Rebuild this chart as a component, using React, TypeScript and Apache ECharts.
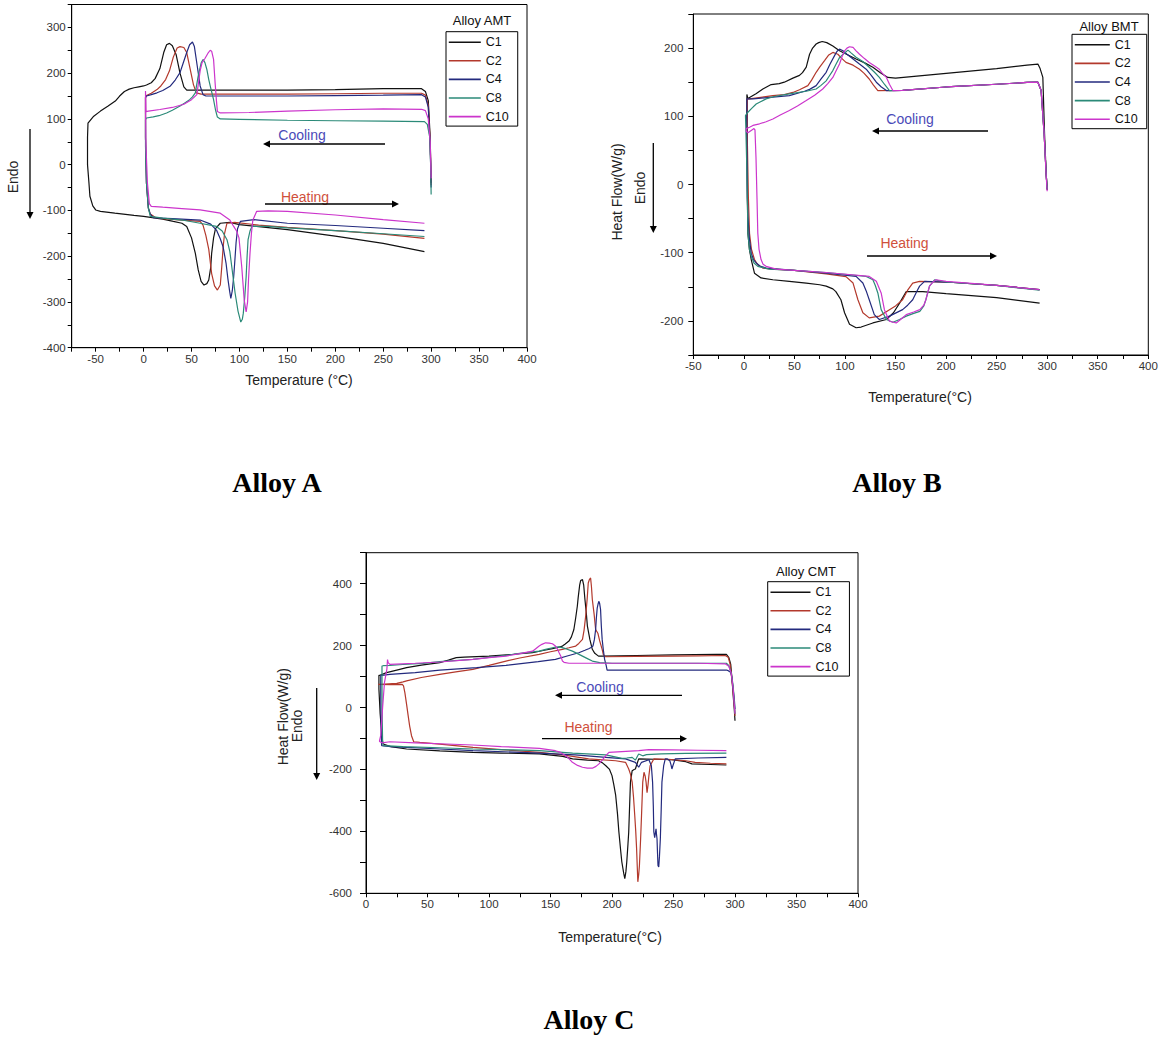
import React, { useEffect, useRef } from "react";
import * as echarts from "echarts";

// ---------- DATA (temperature °C, heat flow W/g) ----------
const CURVE_NAMES = ["C1", "C2", "C4", "C8", "C10"];
const CURVE_COLORS = ["#111111", "#b3392c", "#232a7e", "#2b8a78", "#cc35cc"];

const A_C1 = [[300, -40], [299, 60], [297, 140], [294, 160], [290, 166], [250, 166], [200, 164], [150, 163], [100, 163], [60, 163], [45, 163], [42, 170], [38, 200], [34, 240], [30, 260], [27, 265], [24, 262], [21, 245], [17, 210], [12, 188], [8, 179], [3, 174], [0, 172], [-5, 170], [-10, 168], [-15, 165], [-20, 160], [-25, 150], [-29.5, 139], [-37, 128], [-45, 117], [-52, 106], [-58, 91], [-58.5, 60], [-58.5, 0], [-57, -40], [-56, -69], [-53, -90], [-50, -99], [-45, -102], [-30, -106], [-10, -111], [0, -113], [20, -119], [31, -124], [40, -128], [45, -135], [50, -160], [54, -194], [57, -230], [60, -255], [63, -263], [66, -260], [68, -252], [70, -225], [71, -194], [73, -160], [75, -140], [80, -128], [90, -126], [100, -131], [150, -142], [200, -156], [250, -172], [293, -190]];
const A_C2 = [[300, -45], [299, 50], [297, 130], [294, 152], [290, 156], [250, 156], [200, 155], [150, 154], [100, 154], [60, 154], [55, 157], [52, 175], [48, 215], [45, 245], [42, 256], [38, 258], [35, 255], [31, 235], [27, 205], [23, 186], [18, 172], [14, 164], [8, 156], [3, 151], [2, 148], [2, 60], [3, -40], [5, -95], [7, -108], [12, -115], [20, -118], [40, -121], [59, -124], [62, -132], [65, -155], [68, -185], [71, -238], [74, -265], [77, -274], [80, -263], [81.5, -225], [83, -180], [84.5, -150], [87, -128], [95, -126], [120, -132], [150, -137], [200, -144], [250, -152], [293, -161]];
const A_C4 = [[300, -50], [299, 40], [297, 125], [294, 148], [290, 153], [250, 152], [200, 151], [150, 150], [100, 150], [65, 150], [62, 153], [59, 172], [56, 215], [53, 258], [51, 268], [48, 262], [45, 245], [41, 220], [38, 201], [33, 185], [28, 172], [20, 162], [14, 157], [8, 153], [3, 150], [2, 146], [2, 60], [3, -40], [5, -95], [7, -108], [10, -116], [30, -118], [59, -121], [70, -130], [76, -143], [80, -162], [83, -180], [86, -215], [88, -250], [89.6, -274], [91, -292], [92.5, -276], [94, -245], [95, -216], [96.5, -170], [98, -140], [101, -124], [115, -120], [150, -128], [200, -133], [250, -139], [293, -144]];
const A_C8 = [[300, -65], [299.5, 0], [298.5, 60], [296, 88], [293, 94], [250, 95], [200, 96], [150, 97], [100, 99], [80, 100], [77, 104], [75, 120], [73, 142], [70, 168], [68, 186], [66, 208], [64, 223], [62, 230], [60, 222], [57, 194], [55, 170], [54, 157], [51, 148], [48, 142], [43, 135], [38, 128], [30, 119], [24, 113], [16, 107], [10, 104.5], [3, 102], [2, 98], [2, 40], [3, -40], [5, -95], [7, -113], [20, -117], [40, -121], [59, -128], [76, -135], [82, -145], [87, -164], [90, -190], [92, -223], [95.5, -281], [98.5, -320], [101.4, -344], [103, -338], [104, -325], [105.5, -290], [107, -245], [108, -200], [109, -164], [111, -145], [113, -135], [130, -135], [150, -138], [200, -144], [250, -151], [293, -157]];
const A_C10 = [[300, -30], [299, 50], [297, 100], [294, 118], [290, 121], [250, 122], [200, 120], [150, 117], [110, 114], [80, 113], [77, 116], [76, 140], [74.6, 179], [73, 230], [71, 248], [69.5, 250], [67, 243], [64, 232], [61, 223], [59, 205], [57, 175], [55.6, 153], [50, 142], [42, 132], [30, 125], [17, 120.6], [5, 117], [2.5, 116], [2, 161], [2, 120], [2.5, 40], [4, -40], [6, -85], [8, -91], [20, -93], [40, -96], [59, -99], [80, -106], [90, -121], [94, -135], [97, -145], [99.5, -160], [102.4, -223], [105, -296], [107, -322], [108.5, -300], [109.5, -250], [111, -194], [112.5, -150], [114, -121], [118, -102], [130, -101], [150, -102], [200, -110], [250, -120], [293, -128]];

const B_C1 = [[300, -8], [299, 16], [297.4, 74], [295.7, 157], [293, 170], [290.8, 176.6], [280, 175], [250, 170], [200, 163], [150, 156], [142.4, 157], [135, 164], [127.6, 172], [120, 178], [111, 184], [100, 192], [94.6, 196], [88, 203], [82, 208], [77.5, 209.7], [74, 208], [71.5, 206], [68, 200], [65, 191], [61.7, 172], [58, 164], [55, 160], [48.5, 156], [40, 150], [35, 148], [27, 146.5], [18.8, 140], [12, 133], [9, 130.4], [4, 126], [3, 132], [3, 60], [3.5, -20], [4, -71.5], [5.5, -95], [7.3, -110], [10.5, -130], [17, -137], [28.7, -139.7], [45, -142], [61.7, -144.5], [75, -147], [81.4, -149], [88, -153], [91, -157], [96, -169], [99.6, -188], [104.5, -205], [111, -210], [116, -209], [127.6, -203], [141, -198], [148, -188], [154, -174], [160.6, -157], [177, -157], [200, -160], [250, -166], [292.5, -174]];
const B_C2 = [[300, -6], [299, 15], [297, 74], [294, 137.7], [290.8, 150], [280, 149.6], [250, 147], [200, 143], [157, 138], [132.5, 137.7], [128, 146], [124, 154.7], [119, 163], [114.4, 169], [108, 175], [101, 179], [96, 186], [93, 191], [88, 193.7], [84, 190], [79.8, 181.5], [75, 172], [71.5, 164.5], [67, 153], [63.3, 145], [55, 139], [48.5, 135], [40, 132], [28.7, 130.4], [15, 127.5], [5.6, 125.5], [3.5, 125.5], [3.5, 60], [4.5, -20], [5.6, -71.5], [7.5, -95], [10.5, -110], [14, -118], [18.8, -122.6], [28.7, -124], [50, -126], [81.4, -131], [101, -135], [108, -144.5], [112.8, -169], [117.7, -188], [124, -195.6], [134, -193], [144, -183.5], [150, -178], [157, -169], [162, -155], [167, -144.5], [173.8, -142], [200, -143], [250, -148], [292.5, -154]];
const B_C4 = [[300, -7], [299, 15], [297, 74], [294, 137.7], [290.8, 150], [280, 149.6], [250, 147], [200, 143], [157, 138], [141, 137.7], [136, 143], [131, 150], [126, 160], [121, 169], [114, 177], [108, 184], [102, 191], [98, 196], [94.6, 198.5], [92, 195], [89.7, 189], [85, 176], [81.4, 164.5], [76, 154], [71.5, 145], [65, 139.5], [60, 136.7], [45, 130.4], [28.7, 128], [9, 125.5], [3, 125.5], [3, 60], [3.5, -20], [4, -47], [5.5, -80], [7.3, -100.7], [9.5, -110], [12.2, -115], [16, -119.5], [22, -122.6], [50, -126], [81.4, -130], [111, -134.8], [117.7, -144.5], [121, -156], [124, -169], [129, -190.8], [134, -198], [144, -193], [157, -183.5], [162, -177], [167, -169], [171, -157], [173.8, -149], [178.7, -142], [200, -143], [250, -148], [292.5, -154]];
const B_C8 = [[300, -6], [299, 15], [297, 74], [294, 137.7], [290.8, 150], [280, 149.6], [250, 147], [200, 143], [157, 138], [144, 137.7], [139, 147], [134, 157], [129, 165], [124, 172], [118, 180], [111, 186.6], [106, 193], [103, 197], [99, 192], [94.6, 186], [91, 176], [88, 167], [84, 158], [81.4, 152], [76, 145], [71.5, 140], [61.7, 136.7], [45, 133], [30, 129], [22, 125.5], [16, 121], [12.2, 118], [8, 112], [4, 106], [1.6, 101], [2, 80], [3, 20], [4, -71.5], [5.5, -95], [7.3, -105.6], [10, -115], [13.8, -120], [25, -124], [50, -126], [81.4, -129], [121, -134.8], [127.6, -139.7], [130, -148], [132.5, -159], [135.8, -183.5], [141, -198], [147.4, -202], [154, -198], [160.6, -193], [168, -189], [174, -186], [178, -178], [180, -169], [183.6, -149], [188.6, -139.7], [200, -143], [250, -148], [292.5, -155]];
const B_C10 = [[300, -10], [299, 12], [297, 74], [294, 137.7], [290.8, 150], [280, 149.6], [250, 147], [200, 143], [157, 138], [147.4, 137.7], [144, 147], [141, 157], [137, 163], [134, 169], [129, 174], [124, 179], [119, 185], [114.4, 191], [111, 196], [108, 201], [104.5, 202], [102, 200], [99.6, 196], [97, 187], [94.6, 176.6], [91, 166], [88, 157], [83, 148], [78, 140], [70, 131], [61.7, 123], [53, 115], [45, 108.5], [36, 102], [28.7, 96], [22, 92], [15.5, 89], [9, 86.6], [5.6, 84], [2.3, 82], [2.3, 78], [4, 76], [8, 80], [10, 82], [11, 80], [12, 40], [13, -20], [13.8, -71.5], [15, -95], [17, -110], [19, -117], [22, -120], [32, -124], [50, -126], [81.4, -129], [124, -134.8], [131, -142], [135.8, -159], [139, -183.5], [144, -200.5], [150.7, -203], [155, -198], [160.6, -190.8], [168, -187], [174, -183.5], [178, -177], [180, -169], [183.6, -149], [187, -143], [190, -139.7], [200, -142], [250, -148], [292.5, -154]];

const C_C1 = [[300, -43], [299.4, -5], [298.5, 40], [297.8, 80], [296.5, 140], [295, 161], [293, 171.7], [285, 172], [250, 170], [220, 168], [192, 166], [189, 166], [186, 175], [184, 188], [182, 220], [180, 263], [179, 310], [178, 349], [177, 395], [176, 413], [174.5, 410], [173.7, 395], [172.5, 355], [171.8, 327], [170.5, 290], [169, 252], [167, 228], [165, 214.6], [162, 205], [159.7, 198.5], [155, 193], [151.6, 190], [145, 185], [135.4, 177], [120, 172], [100, 166], [80, 163], [73.4, 161], [67, 153], [60, 145], [45, 137], [33, 129], [25, 121], [16.7, 112.7], [11.3, 104], [10.5, 104], [10.5, 60], [11, 20], [11.5, -20], [12.5, -70], [13, -100], [14, -118], [20, -126], [33, -134], [60, -140], [87, -145], [110, -147], [141, -150], [160, -158], [168, -166], [180, -170], [189, -172], [192, -178], [195, -188], [198, -200], [200, -220], [201.5, -250], [203, -284], [204.5, -345], [205.6, -402], [207, -460], [208, -499], [209.5, -535], [210.4, -552.6], [211.3, -530], [212, -499], [213, -440], [213.6, -402], [214.3, -320], [215, -241], [216.4, -204], [218, -200], [219, -198.5], [220.5, -180], [221.7, -166], [235, -167], [248.7, -168.5], [260, -175], [265, -182], [280, -184], [293, -185.6]];
const C_C2 = [[300, -27], [299.5, 5], [298.8, 37.5], [297.5, 90], [296, 140], [294.5, 162], [292, 168], [270, 167], [250, 166], [220, 165], [194.8, 164], [193, 170], [192, 188], [190, 215], [188.5, 240], [186.7, 252], [185.5, 300], [184, 349], [183.3, 390], [182.6, 418.5], [181.5, 412], [180.7, 402], [179.8, 350], [178.6, 295], [177.3, 250], [176, 220], [173, 207], [170.5, 198.5], [165, 193], [159.7, 188], [150, 180], [140.8, 171.7], [125, 160], [113.8, 150], [100, 136], [86.9, 123], [73, 115], [60, 107], [45, 97], [33, 86], [30.2, 82.6], [25, 78], [15, 76], [10, 75], [10, 74], [20, 74], [29.5, 75], [30.5, 70], [31.6, 48], [33, 10], [34.3, -27], [35.5, -60], [37, -91], [38.8, -110.5], [43.7, -112.7], [60, -118], [87, -129], [110, -136], [141, -145], [160, -153], [181, -166], [203, -172], [211, -177], [213.6, -198.5], [215, -215], [216.4, -241], [217.5, -290], [218.5, -349], [219.3, -400], [220, -456], [220.5, -510], [221, -563], [221.7, -540], [222.3, -510], [223.2, -430], [224, -349], [225, -241], [226, -209], [227, -222], [227.7, -241], [228.5, -275], [229.3, -250], [230, -220], [231, -188], [234, -166], [248.7, -168], [260, -172], [267.6, -177], [280, -180], [293, -182]];
const C_C4 = [[300, -5], [299.4, 30], [298.5, 59], [297.5, 95], [296.7, 112.7], [294.5, 119], [293, 121], [260, 121], [230, 121], [200, 121], [196, 121], [195.3, 135], [194, 155.6], [193, 185], [192, 220], [191.3, 265], [190.7, 316.5], [190, 335], [189.4, 343], [188.7, 335], [188, 322], [187.3, 290], [186.7, 252], [185.7, 220], [184.5, 198.5], [182.6, 193], [181, 190], [178, 185], [173, 177], [165, 168], [154, 155.6], [140, 148], [113.8, 136], [90, 129], [60, 121], [40, 113], [19.4, 107], [12.7, 104], [12, 104], [12, 40], [12.2, -40], [12.5, -100], [12.7, -123], [20, -126], [33, -129], [60, -134], [87, -139.5], [141, -147], [170, -153], [195, -161], [211, -166], [219, -177], [221.7, -193], [224, -177], [230, -168.5], [232, -188], [233, -241], [233.6, -320], [234, -402], [234.7, -420], [235.3, -405], [235.8, -392], [236.2, -410], [236.6, -424], [237, -470], [237.4, -510], [238, -515], [238.6, -480], [239.3, -424], [240, -330], [240.6, -241], [242, -188], [243.3, -166], [245, -166], [247, -172], [248, -185], [248.7, -198.5], [249.5, -188], [251.4, -166], [270, -163], [293, -161]];
const C_C8 = [[300, -20], [299.4, 20], [298.5, 70], [297, 110], [295, 135], [293, 143], [270, 143], [230, 143], [200, 143], [190, 145], [184, 150], [180, 158], [176, 166], [172, 174], [167.8, 182], [162.4, 190], [157, 196], [154, 195], [151.6, 193], [146, 188], [140.8, 182], [125, 175], [113.8, 168.5], [100, 162], [86.9, 155.6], [60, 148], [46.4, 142.7], [30, 139], [19.4, 136], [14, 135], [13, 134], [13, 60], [13.2, -40], [13.5, -110], [14, -123], [30, -126], [60, -130], [87, -134], [120, -137], [141, -139.5], [168, -147], [195, -153], [208, -164], [212, -163], [216.4, -161], [219, -170], [221, -155], [221.7, -150], [225, -156], [228, -152], [240, -150], [260, -148], [293, -147]];
const C_C10 = [[300, -20], [299.4, 10], [298.5, 60], [297, 110], [295, 133], [292, 141], [270, 143], [230, 143], [200, 143], [180, 143], [165, 143], [161, 146], [159.7, 150], [158.5, 165], [157, 177], [155.5, 190], [154, 198.5], [151.6, 206], [149, 208], [146, 209], [143, 204], [140.8, 198.5], [138, 190], [135.4, 182], [125, 174], [113.8, 166], [100, 161], [86.9, 155.6], [60, 147], [40, 143], [19.4, 139.5], [18, 145], [17.5, 155], [17, 125], [15, 80], [13.5, 0], [12, -90], [11, -107], [11, -110], [13, -114], [19.4, -110.5], [40, -114], [60, -117], [86.9, -121], [110, -126], [141, -132], [154, -139.5], [158, -145], [162.4, -155.6], [165, -165], [167.8, -177], [172, -187], [176, -193], [180, -196], [184, -196], [187, -190], [189.4, -182], [192, -170], [195, -155.6], [197.5, -145], [221.7, -139.5], [230, -136], [248.7, -137], [270, -138], [293, -139.5]];

// axis ranges: [xMin, xMax, xStep, xLabelEvery, yMin, yMax, yStep, yLabelEvery]
const AXIS_A = [-75, 400, 25, 50, -400, 350, 50, 100];
const AXIS_B = [-50, 400, 25, 50, -250, 250, 50, 100];
const AXIS_C = [0, 400, 25, 50, -600, 500, 100, 200];

const PANEL_CURVES = [
  [A_C1, A_C2, A_C4, A_C8, A_C10],
  [B_C1, B_C2, B_C4, B_C8, B_C10],
  [C_C1, C_C2, C_C4, C_C8, C_C10],
];
const PANEL_AXES = [AXIS_A, AXIS_B, AXIS_C];
const PANEL_TITLES = ["Alloy A", "Alloy B", "Alloy C"];
const LEGEND_TITLES = ["Alloy AMT", "Alloy BMT", "Alloy CMT"];

// ---------- LAYOUT ----------
const GRIDS = [
  { left: 71.7, top: 4.5, width: 455.3, height: 343.2 },
  { left: 693.3, top: 14, width: 455, height: 341 },
  { left: 366, top: 552.7, width: 492, height: 340.6 },
];
const LEGENDS = [
  { left: 446, top: 31.7, itemWidth: 32, padR: 9 },
  { left: 1072, top: 34.3, itemWidth: 35, padR: 9 },
  { left: 767.7, top: 581.7, itemWidth: 40, padR: 11 },
];
const TICK_LEN = [4, 5, 6];
const YLABEL_MARGIN = [6, 10, 14];

const SANS = "'Liberation Sans', Arial, sans-serif";
const SERIF = "'Liberation Serif', 'Times New Roman', serif";
const COOL_COLOR = "#4a4ab8";
const HEAT_COLOR = "#d0503c";

function txt(x: number, y: number, text: string, opts: any = {}) {
  return {
    type: "text",
    x,
    y,
    rotation: opts.rotation || 0,
    silent: true,
    style: {
      text,
      fill: opts.fill || "#222",
      fontSize: opts.fontSize || 14,
      fontFamily: opts.fontFamily || SANS,
      fontWeight: opts.fontWeight || "normal",
      align: "center",
      verticalAlign: "middle",
    },
  };
}

function hArrow(x1: number, x2: number, y: number) {
  const dir = x2 > x1 ? 1 : -1;
  return [
    { type: "line", silent: true, shape: { x1, y1: y, x2: x2 - dir * 4, y2: y }, style: { stroke: "#000", lineWidth: 1.3 } },
    { type: "polygon", silent: true, shape: { points: [[x2, y], [x2 - dir * 7, y - 3.5], [x2 - dir * 7, y + 3.5]] }, style: { fill: "#000" } },
  ];
}

function vArrow(x: number, y1: number, y2: number) {
  return [
    { type: "line", silent: true, shape: { x1: x, y1, x2: x, y2: y2 - 4 }, style: { stroke: "#000", lineWidth: 1.3 } },
    { type: "polygon", silent: true, shape: { points: [[x, y2], [x - 3.5, y2 - 7], [x + 3.5, y2 - 7]] }, style: { fill: "#000" } },
  ];
}

function buildOption() {
  const grid = GRIDS.map((g) => ({ ...g, show: true, borderColor: "#000", borderWidth: 1, backgroundColor: "transparent" }));
  const xAxis: any[] = [];
  const yAxis: any[] = [];
  PANEL_AXES.forEach((ax, i) => {
    const [xMin, xMax, xStep, xEvery, yMin, yMax, yStep, yEvery] = ax;
    xAxis.push({
      type: "value",
      gridIndex: i,
      min: xMin,
      max: xMax,
      interval: xStep,
      axisLine: { show: true, onZero: false, lineStyle: { color: "#000", width: 1 } },
      axisTick: { show: true, length: 4, lineStyle: { color: "#000" } },
      axisLabel: {
        color: "#333",
        fontSize: 11.5,
        fontFamily: SANS,
        margin: 5,
        formatter: (v: number) => (Math.round(v) % xEvery === 0 ? String(v) : ""),
      },
      splitLine: { show: false },
    });
    yAxis.push({
      type: "value",
      gridIndex: i,
      min: yMin,
      max: yMax,
      interval: yStep,
      axisLine: { show: true, onZero: false, lineStyle: { color: "#000", width: 1 } },
      axisTick: { show: true, length: TICK_LEN[i], lineStyle: { color: "#000" } },
      axisLabel: {
        color: "#333",
        fontSize: 11.5,
        fontFamily: SANS,
        margin: YLABEL_MARGIN[i],
        formatter: (v: number) => (Math.round(v) % yEvery === 0 ? String(v) : ""),
      },
      splitLine: { show: false },
    });
  });

  const series: any[] = [];
  PANEL_CURVES.forEach((curves, p) => {
    curves.forEach((data, k) => {
      series.push({
        type: "line",
        name: CURVE_NAMES[k],
        xAxisIndex: p,
        yAxisIndex: p,
        data,
        symbol: "none",
        showSymbol: false,
        smooth: false,
        silent: true,
        lineStyle: { color: CURVE_COLORS[k], width: 1.2 },
        itemStyle: { color: CURVE_COLORS[k] },
      });
    });
  });

  const legend = LEGENDS.map((l) => ({
    show: true,
    orient: "vertical",
    left: l.left,
    top: l.top,
    padding: [4, l.padR, 3, 2],
    itemWidth: l.itemWidth,
    itemHeight: 14,
    itemGap: 5.6,
    borderColor: "#000",
    borderWidth: 1,
    selectedMode: false,
    data: CURVE_NAMES,
    itemStyle: { opacity: 0, borderWidth: 0 },
    lineStyle: { width: 1.6, opacity: 1 },
    textStyle: { fontSize: 12.5, fontFamily: SANS, color: "#111" },
  }));

  const graphic: any[] = [
    txt(277, 482, PANEL_TITLES[0], { fontSize: 28, fontFamily: SERIF, fontWeight: "bold", fill: "#000" }),
    txt(897, 482, PANEL_TITLES[1], { fontSize: 28, fontFamily: SERIF, fontWeight: "bold", fill: "#000" }),
    txt(589, 1019, PANEL_TITLES[2], { fontSize: 28, fontFamily: SERIF, fontWeight: "bold", fill: "#000" }),
    txt(482, 20, LEGEND_TITLES[0], { fontSize: 13, fill: "#111" }),
    txt(1109, 26.7, LEGEND_TITLES[1], { fontSize: 13, fill: "#111" }),
    txt(806, 571.7, LEGEND_TITLES[2], { fontSize: 13, fill: "#111" }),
    txt(299, 380, "Temperature (°C)", { fontSize: 14 }),
    txt(920, 396.7, "Temperature(°C)", { fontSize: 14 }),
    txt(610, 936.7, "Temperature(°C)", { fontSize: 14 }),
    txt(13.3, 177, "Endo", { fontSize: 14, rotation: Math.PI / 2 }),
    txt(617, 192, "Heat Flow(W/g)", { fontSize: 14, rotation: Math.PI / 2 }),
    txt(640, 188, "Endo", { fontSize: 14, rotation: Math.PI / 2 }),
    txt(283, 716.7, "Heat Flow(W/g)", { fontSize: 14, rotation: Math.PI / 2 }),
    txt(297, 726, "Endo", { fontSize: 14, rotation: Math.PI / 2 }),
    txt(302, 135, "Cooling", { fontSize: 14, fill: COOL_COLOR }),
    txt(305, 197, "Heating", { fontSize: 14, fill: HEAT_COLOR }),
    txt(910, 119, "Cooling", { fontSize: 14, fill: COOL_COLOR }),
    txt(904.5, 242.7, "Heating", { fontSize: 14, fill: HEAT_COLOR }),
    txt(600, 686.7, "Cooling", { fontSize: 14, fill: COOL_COLOR }),
    txt(588.5, 726.7, "Heating", { fontSize: 14, fill: HEAT_COLOR }),
    ...hArrow(385, 263, 144),
    ...hArrow(265, 399, 204),
    ...hArrow(988, 872, 131),
    ...hArrow(867, 997, 256),
    ...hArrow(682, 555, 695.3),
    ...hArrow(542, 687, 738.7),
    ...vArrow(30, 129, 219),
    ...vArrow(653.3, 143, 233),
    ...vArrow(316.7, 688, 780),
  ];

  return {
    animation: false,
    backgroundColor: "#ffffff",
    grid,
    xAxis,
    yAxis,
    legend,
    series,
    graphic,
  };
}

export default function App() {
  const ref = useRef<HTMLDivElement>(null);
  useEffect(() => {
    if (!ref.current) return;
    const chart = echarts.init(ref.current, undefined, { renderer: "svg" });
    chart.setOption(buildOption() as any);
    return () => chart.dispose();
  }, []);
  return (
    <div
      ref={ref}
      style={{ position: "absolute", left: 0, top: 0, width: 1167, height: 1039, background: "#fff" }}
    />
  );
}
